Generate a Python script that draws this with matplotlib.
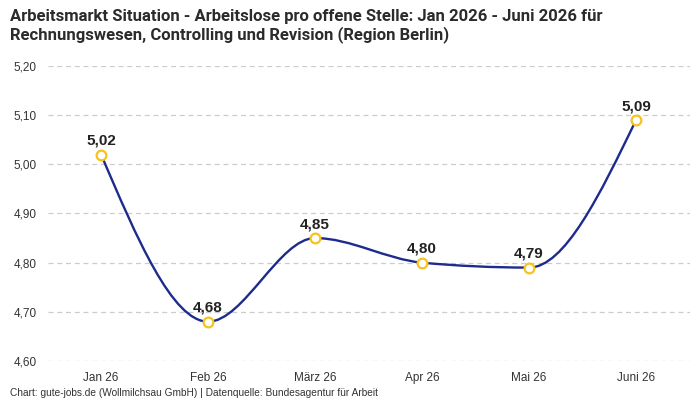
import numpy as np
import matplotlib.pyplot as plt
from matplotlib.path import Path
from matplotlib.patches import PathPatch

months = ['Jan 26', 'Feb 26', 'März 26', 'Apr 26', 'Mai 26', 'Juni 26']
values = [5.02, 4.68, 4.85, 4.80, 4.79, 5.09]
y_ticks = [4.60, 4.70, 4.80, 4.90, 5.00, 5.10, 5.20]

line_col = '#1c2b8c'
mark_col = '#f7c21b'


def monotone_path(xs, ys):
    # monotone cubic (like d3 curveMonotoneX), drawn as bezier segments
    xs = np.asarray(xs, float)
    ys = np.asarray(ys, float)
    n = len(xs)
    h = np.diff(xs)
    s = np.diff(ys) / h
    t = np.zeros(n)
    for i in range(1, n - 1):
        p = (s[i - 1] * h[i] + s[i] * h[i - 1]) / (h[i - 1] + h[i])
        t[i] = (np.sign(s[i - 1]) + np.sign(s[i])) * min(abs(s[i - 1]), abs(s[i]), 0.5 * abs(p))
    t[0] = (3 * s[0] - t[1]) / 2
    t[-1] = (3 * s[-1] - t[-2]) / 2
    verts = [(xs[0], ys[0])]
    codes = [Path.MOVETO]
    for i in range(n - 1):
        dx = h[i] / 3
        verts += [(xs[i] + dx, ys[i] + dx * t[i]),
                  (xs[i + 1] - dx, ys[i + 1] - dx * t[i + 1]),
                  (xs[i + 1], ys[i + 1])]
        codes += [Path.CURVE4] * 3
    return Path(verts, codes)


plt.rcParams['font.family'] = ['Liberation Sans', 'DejaVu Sans']

fig = plt.figure(figsize=(7, 4), dpi=100)
ax = fig.add_axes([0.068, 0.0975, 0.917, 0.7375])

x = np.arange(len(months))
ax.add_patch(PathPatch(monotone_path(x, values), fill=False, edgecolor=line_col, lw=1.7, zorder=3))
ax.plot(x, values, 'o', ms=7, mfc='white', mec=mark_col, mew=1.6, zorder=4, clip_on=False)
for xi, v in zip(x, values):
    ax.annotate(f'{v:.2f}'.replace('.', ','), (xi, v), xytext=(0, 5), textcoords='offset points',
                ha='center', va='bottom', fontsize=11, fontweight='bold', color='#222222')

ax.set_xlim(-0.5, len(months) - 0.5)
ax.set_ylim(4.60, 5.20)
ax.set_yticks(y_ticks)
ax.set_yticklabels([f'{v:.2f}'.replace('.', ',') for v in y_ticks])
ax.set_xticks(x)
ax.set_xticklabels(months)
ax.tick_params(length=0, labelsize=8.5, colors='#333333', pad=8)
ax.tick_params(axis='x', pad=8)
ax.grid(axis='y', ls=(0, (4, 3)), color='#cccccc', lw=0.9)
ax.set_axisbelow(True)
for sp in ax.spines.values():
    sp.set_visible(False)

fig.text(0.014, 0.978, 'Arbeitsmarkt Situation - Arbeitslose pro offene Stelle: Jan 2026 - Juni 2026 für\n'
         'Rechnungswesen, Controlling und Revision (Region Berlin)',
         ha='left', va='top', fontsize=12, fontweight='bold', color='#2b2b2b',
         family=['Roboto', 'DejaVu Sans'], linespacing=1.2)
fig.text(0.014, 0.006, 'Chart: gute-jobs.de (Wollmilchsau GmbH) | Datenquelle: Bundesagentur für Arbeit',
         ha='left', va='bottom', fontsize=7.3, color='#333333')

fig.savefig('out.png', dpi=100)
